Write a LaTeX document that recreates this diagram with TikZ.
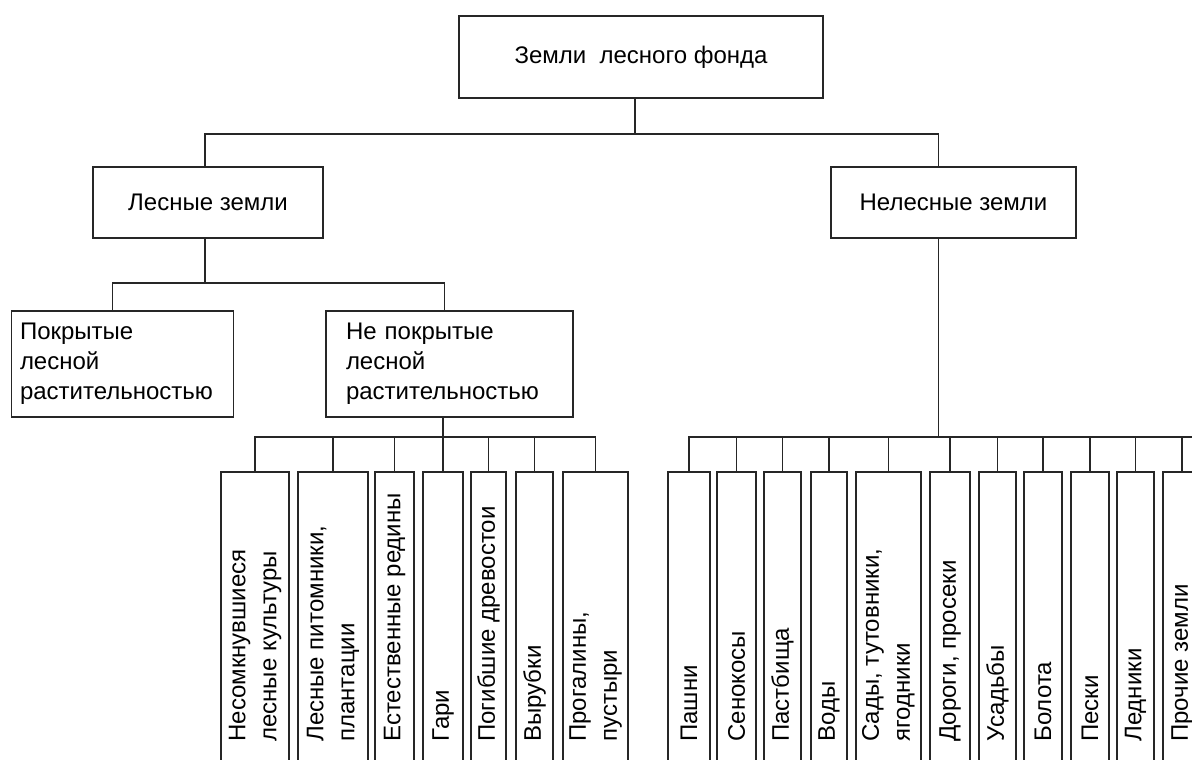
\documentclass[tikz,border=0pt]{standalone}
\usepackage{fontspec}
\setmainfont{Liberation Sans}
\usepackage{tikz}

\begin{document}
\begin{tikzpicture}[x=1pt, y=-1pt, main/.style={draw=black!85, line width=1.8pt, inner sep=0pt, font=\fontsize{24}{30}\selectfont}, info/.style={main, align=left, minimum height=106pt}, leaf/.style={draw=black!85, line width=1.8pt, anchor=north, minimum height=300pt, inner sep=0pt}, vt/.style={rotate=90, anchor=west, align=left, inner sep=0pt, font=\fontsize{24}{31}\selectfont}, n/.style={draw=black!85, line width=1.8pt}]
            \clip (0,0) rectangle (1192,760);
            % nodes
            \node[main, minimum width=364pt, minimum height=82pt] (zlf) at (641,57) {Земли\ \ лесного фонда};
            \node[main, minimum width=230pt, minimum height=71pt] (les) at (208,202.5) {Лесные земли};
            \node[main, minimum width=245pt, minimum height=71pt] (nel) at (953.5,202.5) {Нелесные земли};
            \node[info, text width=205pt, inner xsep=8.5pt] (pok) at (122.5,364) {Покрытые\\лесной\\растительностью};
            \node[info, text width=207pt, inner xsep=20pt] (nep) at (449.5,364) {Не покрытые\\лесной\\растительностью};
            % leaves, not covered
            \node[leaf, minimum width=68pt] (g1) at (255,471) {};
            \node[leaf, minimum width=70pt] (g2) at (333,471) {};
            \node[leaf, minimum width=39pt] (g3) at (394.5,471) {};
            \node[leaf, minimum width=40pt] (g4) at (443,471) {};
            \node[leaf, minimum width=35pt] (g5) at (488.5,471) {};
            \node[leaf, minimum width=37pt] (g6) at (534.5,471) {};
            \node[leaf, minimum width=65pt] (g7) at (595.5,471) {};
            \node[vt] (tg1) at ([yshift=31pt]g1.south) {Несомкнувшиеся\\лесные культуры};
            \node[vt] (tg2) at ([yshift=31pt]g2.south) {Лесные питомники,\\плантации};
            \node[vt] (tg3) at ([yshift=31pt]g3.south) {Естественные редины};
            \node[vt] (tg4) at ([yshift=31pt]g4.south) {Гари};
            \node[vt] (tg5) at ([yshift=31pt]g5.south) {Погибшие древостои};
            \node[vt] (tg6) at ([yshift=31pt]g6.south) {Вырубки};
            \node[vt] (tg7) at ([yshift=31pt]g7.south) {Прогалины,\\пустыри};
            % leaves, non-forest
            \node[leaf, minimum width=41.5pt] (h1) at (689,471) {};
            \node[leaf, minimum width=39pt] (h2) at (736.5,471) {};
            \node[leaf, minimum width=37pt] (h3) at (782.5,471) {};
            \node[leaf, minimum width=36pt] (h4) at (829,471) {};
            \node[leaf, minimum width=65pt] (h5) at (888.5,471) {};
            \node[leaf, minimum width=40pt] (h6) at (950,471) {};
            \node[leaf, minimum width=37pt] (h7) at (997.5,471) {};
            \node[leaf, minimum width=38pt] (h8) at (1043,471) {};
            \node[leaf, minimum width=38pt] (h9) at (1090,471) {};
            \node[leaf, minimum width=37pt] (h10) at (1135.5,471) {};
            \node[leaf, minimum width=38pt] (h11) at (1182,471) {};
            \node[vt] (th1) at ([yshift=31pt]h1.south) {Пашни};
            \node[vt] (th2) at ([yshift=31pt]h2.south) {Сенокосы};
            \node[vt] (th3) at ([yshift=31pt]h3.south) {Пастбища};
            \node[vt] (th4) at ([yshift=31pt]h4.south) {Воды};
            \node[vt] (th5) at ([yshift=31pt]h5.south) {Сады, тутовники,\\ягодники};
            \node[vt] (th6) at ([yshift=31pt]h6.south) {Дороги, просеки};
            \node[vt] (th7) at ([yshift=31pt]h7.south) {Усадьбы};
            \node[vt] (th8) at ([yshift=31pt]h8.south) {Болота};
            \node[vt] (th9) at ([yshift=31pt]h9.south) {Пески};
            \node[vt] (th10) at ([yshift=31pt]h10.south) {Ледники};
            \node[vt] (th11) at ([yshift=31pt]h11.south) {Прочие земли};
            % edges
            \draw[n] ([xshift=-6pt]zlf.south) -- ++(0,35) coordinate (j0);
            \draw[n] ([xshift=-3pt]les.north) |- (j0) -| ([xshift=-15pt]nel.north);
            \draw[n] ([xshift=-3pt]les.south) -- ++(0,44) coordinate (j1);
            \draw[n] ([xshift=-10pt]pok.north) |- (j1) -| ([xshift=-5pt]nep.north);
            \draw[n] (nep.south -| g4.north) -- (g4.north);
            \draw[n] (g1.north) -- ++(0,-34) -| (g7.north);
            \draw[n] (g2.north) -- ++(0,-34) (g3.north) -- ++(0,-34) (g5.north) -- ++(0,-34) (g6.north) -- ++(0,-34);
            \draw[n] ([xshift=-15pt]nel.south) -- ++(0,199) coordinate (j3);
            \draw[n] (h1.north) -- ++(0,-34) -| (h11.north);
            \draw[n] (h11.north) ++(0,-34) -- ++(20,0);
            \draw[n] (h2.north) -- ++(0,-34) (h3.north) -- ++(0,-34) (h4.north) -- ++(0,-34) (h5.north) -- ++(0,-34) (h6.north) -- ++(0,-34);
            \draw[n] (h7.north) -- ++(0,-34) (h8.north) -- ++(0,-34) (h9.north) -- ++(0,-34) (h10.north) -- ++(0,-34);
        \end{tikzpicture}
\end{document}
